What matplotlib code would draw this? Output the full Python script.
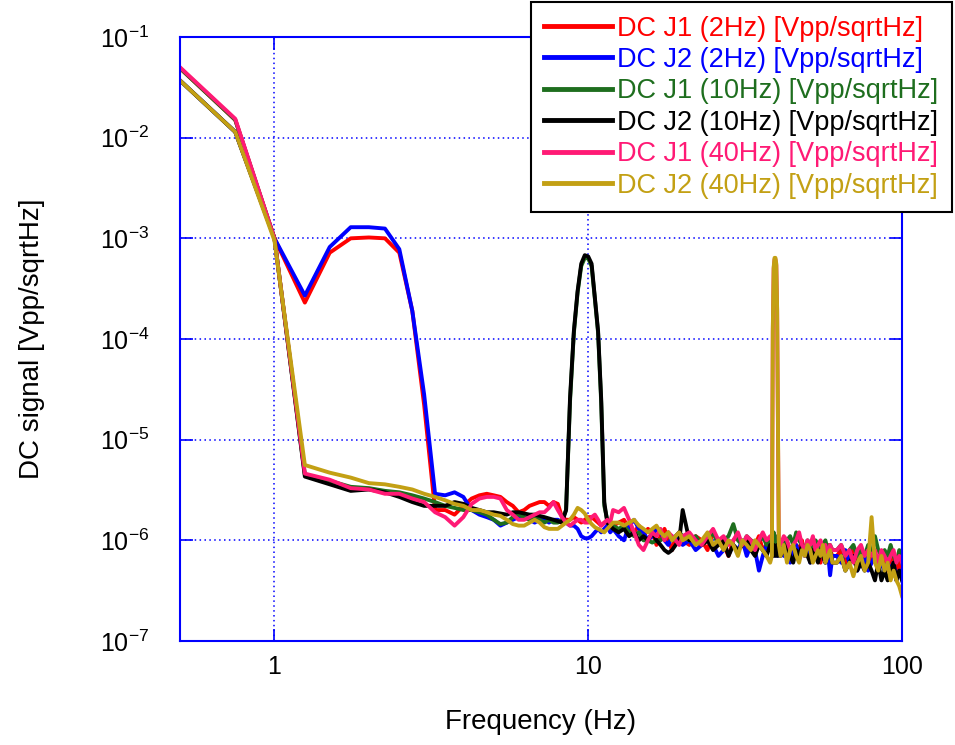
import numpy as np
import matplotlib
matplotlib.use("Agg")
import matplotlib.pyplot as plt
from matplotlib.ticker import FixedLocator, FixedFormatter, NullLocator

plt.rcParams["font.family"] = ["Liberation Sans", "DejaVu Sans"]
plt.rcParams["mathtext.default"] = "regular"

# ---------------------------------------------------------------------------
# Data (amplitudes in 1e-6 Vpp/sqrtHz)
# ---------------------------------------------------------------------------
FREQ = np.concatenate([
    np.arange(0.5, 12.01, 0.25),   # 47
    np.arange(12.5, 20.01, 0.5),   # 16
    np.arange(21, 38.01, 1.0),     # 18
    np.arange(38.5, 40.51, 0.25),  # 9
    np.arange(41, 60.01, 1.0),     # 20
    np.arange(62, 100.01, 2.0),    # 20
])

J1_2HZ = [
    49000, 15000, 1000, 230, 720, 1000, 1020, 1000, 720, 190, 22, 2.0,
    2.0, 1.8, 2.2, 2.6, 2.8, 2.9, 2.8, 2.7, 2.4, 2.2,
    1.9, 2.0, 2.2, 2.3, 2.4, 2.4, 2.2, 2.4, 2.3, 1.7,
    1.6, 1.6, 1.7, 1.6, 1.5, 1.6, 1.7, 1.7, 1.6, 1.5,
    1.4, 1.5, 1.5, 1.3, 1.4,
    1.5, 1.6, 1.3, 1.2, 1.4, 1.1, 1.3, 1.2, 0.9, 1.1, 1.3, 1.0, 0.8, 1.1, 1.2, 1.0,
    0.9, 1.1, 1.0, 0.8, 1.2, 1.0, 0.9, 0.7, 1.0, 1.1, 0.9, 0.8, 1.0, 0.9, 1.1, 0.8, 0.9, 1.0,
    0.9, 0.8, 1.0, 0.9, 0.8, 0.9, 1.0, 0.8, 0.9,
    0.8, 0.9, 1.0, 0.7, 0.8, 0.9, 0.8, 1.0, 0.7, 0.8, 0.9, 0.7, 0.8, 0.9, 0.6, 0.8, 0.7, 0.9, 0.8, 0.7,
    0.7, 0.8, 0.6, 0.7, 0.8, 0.6, 0.7, 0.6, 0.8, 0.6, 0.7, 0.5, 0.7, 0.6, 0.5, 0.7, 0.6, 0.5, 0.6, 0.5,
]
J2_2HZ = [
    37000, 11400, 1000, 270, 820, 1290, 1290, 1250, 780, 190, 28, 2.9,
    2.8, 3.0, 2.7, 2.0, 1.8, 1.7, 1.6, 1.4, 1.5, 1.6,
    1.7, 1.7, 1.6, 1.5, 1.6, 1.6, 1.5, 1.6, 1.6, 1.5,
    1.5, 1.4, 1.4, 1.3, 1.1, 1.05, 1.05, 1.1, 1.2, 1.3,
    1.2, 1.3, 1.4, 1.2, 1.3,
    1.1, 1.0, 1.4, 1.6, 1.3, 1.2, 1.0, 1.1, 1.3, 1.2, 1.0, 0.9, 1.1, 1.0, 1.2, 0.9,
    1.0, 0.8, 0.9, 1.1, 0.9, 0.7, 0.8, 1.0, 0.9, 0.8, 1.0, 0.7, 0.9, 0.8, 0.5, 0.7, 0.9, 0.8,
    0.8, 0.9, 0.7, 0.8, 0.9, 0.8, 0.7, 0.9, 0.8,
    0.9, 0.7, 0.8, 0.6, 0.8, 0.9, 0.7, 0.8, 0.7, 0.9, 0.6, 0.8, 0.7, 0.8, 0.9, 0.7, 0.6, 0.8, 0.45, 0.7,
    0.7, 0.6, 0.8, 0.6, 0.7, 0.5, 0.6, 0.7, 0.5, 0.6, 0.7, 0.5, 0.6, 0.5, 0.6, 0.5, 0.6, 0.4, 0.5, 0.5,
]
J1_10HZ = [
    49000, 15000, 1000, 4.5, 3.9, 3.4, 3.3, 3.1, 3.0, 2.8, 2.6, 2.4,
    2.2, 2.1, 2.0, 2.0, 1.9, 1.8, 1.6, 1.45, 1.5, 1.7,
    1.8, 1.7, 1.6, 1.7, 1.6, 1.5, 1.6, 1.5, 1.5, 1.6,
    2.0, 24, 115, 290, 530, 640, 630, 530, 250, 115,
    23, 2.2, 1.6, 1.5, 1.4,
    1.3, 1.4, 1.2, 1.1, 1.2, 1.0, 1.0, 0.95, 1.0, 1.0, 1.1, 1.2, 1.0, 1.1, 1.2, 1.1,
    1.0, 1.1, 0.9, 1.0, 1.2, 0.9, 1.0, 1.1, 1.45, 1.0, 0.9, 1.1, 1.0, 0.9, 1.0, 1.1, 0.9, 1.0,
    1.1, 1.0, 1.2, 1.0, 0.9, 1.0, 1.1, 1.0, 0.9,
    1.0, 0.9, 1.0, 1.1, 0.9, 1.2, 1.0, 0.9, 0.8, 1.0, 0.9, 0.8, 1.0, 0.9, 0.8, 0.9, 1.0, 0.8, 0.9, 0.8,
    0.8, 0.9, 0.7, 0.8, 0.9, 0.7, 0.8, 0.7, 0.9, 0.7, 1.1, 0.8, 0.7, 0.8, 0.7, 0.9, 0.7, 0.6, 0.8, 0.6,
]
J2_10HZ = [
    37000, 11400, 1000, 4.3, 3.6, 3.1, 3.2, 3.0, 2.7, 2.4, 2.2, 2.2,
    2.2, 2.4, 2.3, 2.1, 2.0, 1.9, 1.9, 1.85, 1.8, 1.9,
    1.9, 1.85, 1.8, 1.8, 1.75, 1.7, 1.65, 1.6, 1.55, 1.5,
    2.0, 26, 120, 300, 560, 680, 660, 560, 260, 120,
    25, 2.4, 1.5, 1.4, 1.3,
    1.2, 1.3, 1.1, 1.2, 1.0, 1.1, 1.0, 1.2, 1.0, 0.9, 0.8, 0.75, 0.8, 0.9, 1.0, 2.0,
    1.0, 1.0, 0.9, 1.0, 0.8, 0.9, 1.0, 0.7, 0.9, 0.8, 0.9, 1.0, 0.8, 0.7, 0.9, 0.8, 0.7, 0.9,
    0.8, 0.7, 0.9, 0.8, 0.7, 0.8, 0.9, 0.7, 0.8,
    0.7, 0.8, 0.9, 0.7, 0.6, 0.8, 0.7, 0.9, 0.8, 0.7, 0.6, 0.8, 0.7, 0.6, 0.8, 0.7, 0.6, 0.7, 0.8, 0.6,
    0.6, 0.7, 0.5, 0.6, 0.7, 0.5, 0.6, 0.5, 0.6, 0.5, 0.4, 0.6, 0.4, 0.5, 0.4, 0.5, 0.6, 0.4, 0.5, 0.4,
]
J1_40HZ = [
    50000, 15400, 1000, 4.6, 4.0, 3.3, 3.2, 2.9, 2.9, 2.6, 2.4, 1.9,
    1.7, 1.4, 1.7, 2.3, 2.6, 2.7, 2.7, 2.6, 2.0, 1.8,
    1.6, 1.6, 1.7, 1.8, 1.9, 1.9, 2.1, 2.4, 2.0, 1.7,
    1.5, 1.4, 1.5, 1.6, 1.6, 1.5, 1.5, 1.7, 1.8, 1.6,
    1.4, 1.5, 1.6, 1.5, 2.0,
    1.9, 2.1, 1.6, 1.2, 0.9, 0.8, 1.0, 1.2, 1.1, 1.3, 1.0, 1.2, 1.1, 1.0, 0.9, 1.1,
    1.2, 1.0, 0.9, 1.1, 1.3, 1.0, 1.1, 0.9, 1.0, 1.2, 0.9, 1.1, 1.0, 0.8, 1.0, 1.2, 1.0, 1.1,
    1.0, 120, 500, 620, 620, 540, 190, 11, 1.0,
    0.9, 1.1, 1.0, 0.8, 0.9, 1.0, 1.2, 0.9, 0.8, 1.0, 0.9, 1.1, 0.8, 0.9, 1.0, 0.8, 0.9, 0.7, 0.9, 0.8,
    0.8, 0.9, 0.7, 0.8, 0.6, 0.8, 0.9, 0.7, 0.8, 0.7, 0.8, 0.6, 0.8, 0.7, 0.6, 0.7, 0.8, 0.6, 0.7, 0.6,
]
J2_40HZ = [
    37000, 11400, 950, 5.6, 4.7, 4.2, 3.7, 3.6, 3.4, 3.2, 2.9, 2.7,
    2.5, 2.3, 2.2, 2.0, 2.0, 1.9, 1.8, 1.75, 1.6, 1.45,
    1.4, 1.4, 1.5, 1.6, 1.5, 1.35, 1.3, 1.3, 1.3, 1.4,
    1.5, 1.6, 1.8, 2.1, 2.0, 1.85, 1.6, 1.45, 1.35, 1.3,
    1.25, 1.2, 1.3, 1.4, 1.5,
    1.5, 1.4, 1.5, 1.6, 1.4, 1.3, 1.2, 1.3, 1.4, 1.2, 1.1, 1.2, 1.0, 1.1, 1.2, 1.0,
    1.1, 0.9, 1.0, 1.2, 0.9, 1.0, 0.8, 1.0, 0.9, 0.7, 1.0, 0.9, 0.8, 1.0, 0.9, 0.8, 0.7, 0.6,
    0.7, 130, 520, 640, 640, 560, 200, 12, 0.9,
    0.7, 0.9, 0.6, 0.8, 0.9, 0.7, 0.6, 0.8, 0.7, 0.9, 0.8, 0.6, 0.7, 0.8, 0.7, 0.9, 0.6, 0.7, 0.8, 0.6,
    0.6, 0.7, 0.5, 0.6, 0.44, 0.6, 0.7, 0.5, 0.6, 1.7, 0.6, 0.5, 0.7, 0.5, 0.6, 0.4, 0.5, 0.4, 0.35, 0.28,
]

LABELS = [
    "DC J1 (2Hz) [Vpp/sqrtHz]",
    "DC J2 (2Hz) [Vpp/sqrtHz]",
    "DC J1 (10Hz) [Vpp/sqrtHz]",
    "DC J2 (10Hz) [Vpp/sqrtHz]",
    "DC J1 (40Hz) [Vpp/sqrtHz]",
    "DC J2 (40Hz) [Vpp/sqrtHz]",
]
COLORS = ["#FF0000", "#0000FF", "#1E6E1E", "#000000", "#FF1A75", "#C3A014"]
SERIES = [J1_2HZ, J2_2HZ, J1_10HZ, J2_10HZ, J1_40HZ, J2_40HZ]

for s in SERIES:
    assert len(s) == len(FREQ), (len(s), len(FREQ))

# ---------------------------------------------------------------------------
# Figure
# ---------------------------------------------------------------------------
fig = plt.figure(figsize=(9.55, 7.45), dpi=100)
ax = fig.add_axes([180 / 955, 1 - 641 / 745, 722 / 955, 604 / 745])

for vals, col, lab in zip(SERIES, COLORS, LABELS):
    ax.plot(FREQ, np.array(vals) * 1e-6, color=col, lw=2.8, label=lab,
            solid_joinstyle="round")

ax.set_xscale("log")
ax.set_yscale("log")
ax.set_xlim(0.5, 100)
ax.set_ylim(1e-7, 1e-1)

ax.xaxis.set_major_locator(FixedLocator([1, 10, 100]))
ax.xaxis.set_major_formatter(FixedFormatter(["1", "10", "100"]))
ax.xaxis.set_minor_locator(NullLocator())
ax.yaxis.set_major_locator(FixedLocator([10.0 ** k for k in range(-7, 0)]))
ax.yaxis.set_major_formatter(FixedFormatter(
    [r"$10^{%d}$" % k for k in range(-7, 0)]))
ax.yaxis.set_minor_locator(NullLocator())

BLUE = "#0000FF"
for sp in ax.spines.values():
    sp.set_color(BLUE)
    sp.set_linewidth(1.5)
ax.tick_params(which="major", direction="in", length=9, width=1.2,
               color=BLUE, labelcolor="black", labelsize=18,
               top=True, right=True)
ax.tick_params(axis="y", pad=22)
ax.tick_params(axis="x", pad=10)
ax.grid(True, which="major", color=BLUE, linestyle=(0, (1, 2.2)), lw=1.1)

ax.set_xlabel("Frequency (Hz)", fontsize=20)
ax.set_ylabel("DC signal [Vpp/sqrtHz]", fontsize=20)
ax.xaxis.set_label_coords(0.5, -0.112)
ax.yaxis.set_label_coords(-0.187, 0.5)

leg = ax.legend(loc="upper right", bbox_to_anchor=(952 / 955, 743 / 745),
                bbox_transform=fig.transFigure, borderaxespad=0,
                fontsize=19.5, handlelength=2.5, handletextpad=0.2,
                labelspacing=0.2, borderpad=0.5, fancybox=False,
                framealpha=1, edgecolor="black")
leg.get_frame().set_linewidth(1.5)
for txt, col in zip(leg.get_texts(), COLORS):
    txt.set_color(col)
for ln in leg.get_lines():
    ln.set_linewidth(3.5)

fig.savefig("out.png", dpi=100)
